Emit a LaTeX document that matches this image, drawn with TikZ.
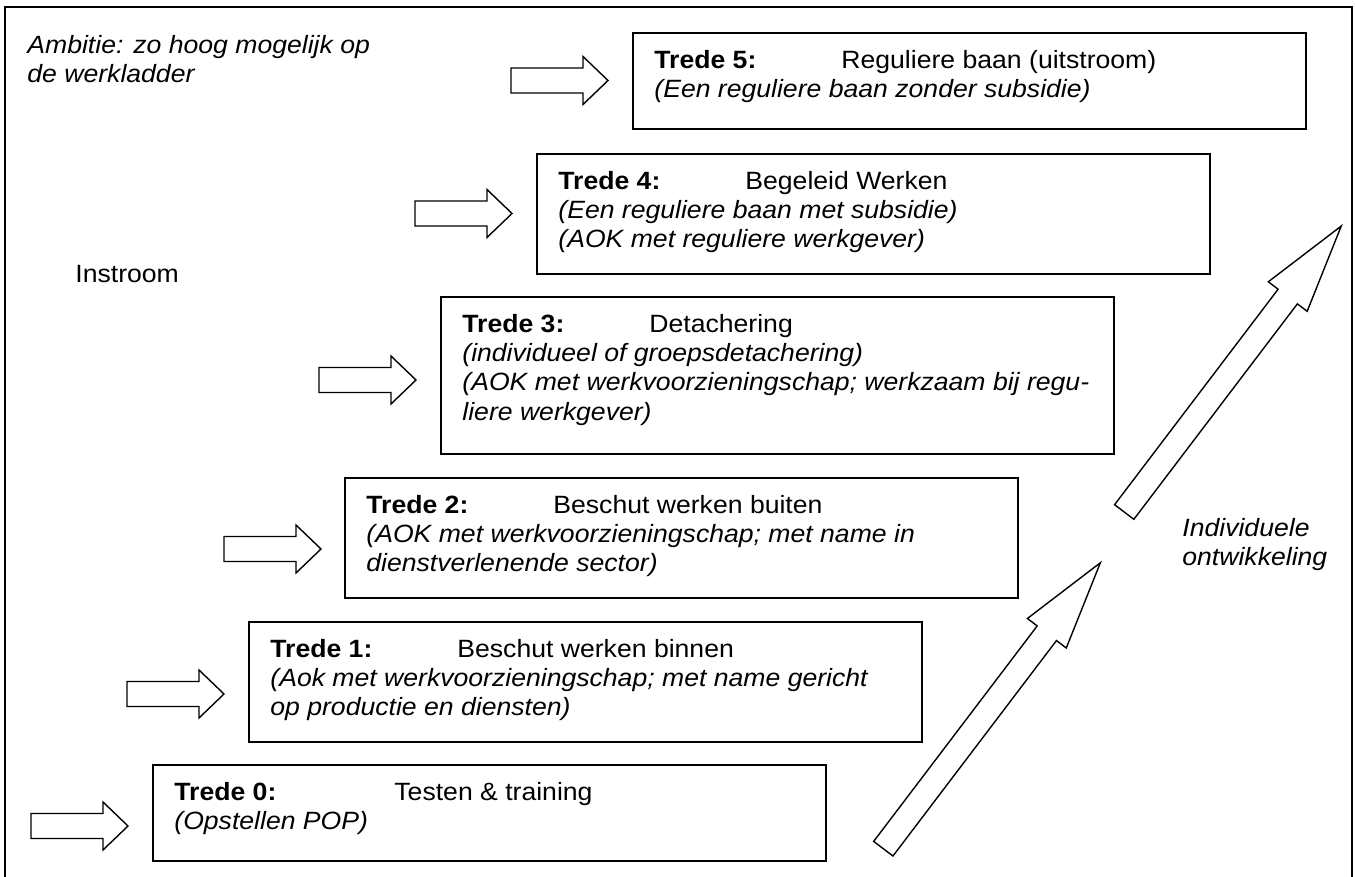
\documentclass[tikz,border=0pt]{standalone}
\usepackage{fontspec}
\setmainfont{Liberation Sans}[FakeStretch=1.064]
\begin{document}
\begin{tikzpicture}[x=0.5pt,y=-0.5pt]
		\newcommand{\boxw}{336.5pt} % width of the steps
		\newcommand{\tabpos}{93.5pt} % tab stop after "Trede n:"
		\newcommand{\shaft}{12.5} % half height of the small arrows
		\newcommand{\head}{24} % half height of their heads
		\newcommand{\len}{359} % length of the big arrows

		% styles of the steps and arrows
		\tikzset{
			stepbox/.style={
				draw,
				line width=1pt,
				minimum width=\boxw,
				anchor=north west,
				inner sep=0pt
				},
			steptext/.style={
				anchor=north west,
				align=left,
				inner sep=0pt,
				font=\fontsize{12.5pt}{14.6pt}\selectfont
				},
			hollow/.style={
				draw,
				line width=0.7pt,
				fill=white
				}
		}

		\useasboundingbox (0,0) rectangle (1355,877);

		% frame
		\draw[line width=1pt] (5,877) |- (1352,7) -- (1352,877);

		% steps
		\node[stepbox, minimum height=48pt] (trede0) at (152,764) {};
		\node[stepbox, minimum height=60pt] (trede1) at (248,621) {};
		\node[stepbox, minimum height=60pt] (trede2) at (344,477) {};
		\node[stepbox, minimum height=78.5pt] (trede3) at (440,296) {};
		\node[stepbox, minimum height=60pt] (trede4) at (536,153) {};
		\node[stepbox, minimum height=48pt] (trede5) at (632,32) {};

		% texts of the steps
		\node[steptext] (txt0) at ([shift={(11pt,-9pt)}]trede0.north west)
			{\makebox[110pt][l]{\textbf{Trede 0:}}Testen \& training\\
			\textit{(Opstellen POP)}};
		\node[steptext] (txt1) at ([shift={(11pt,-9pt)}]trede1.north west)
			{\makebox[\tabpos][l]{\textbf{Trede 1:}}Beschut werken binnen\\
			\textit{(Aok met werkvoorzieningschap; met name gericht}\\
			\textit{op productie en diensten)}};
		\node[steptext] (txt2) at ([shift={(11pt,-9pt)}]trede2.north west)
			{\makebox[\tabpos][l]{\textbf{Trede 2:}}Beschut werken buiten\\
			\textit{(AOK met werkvoorzieningschap; met name in}\\
			\textit{dienstverlenende sector)}};
		\node[steptext] (txt3) at ([shift={(11pt,-9pt)}]trede3.north west)
			{\makebox[\tabpos][l]{\textbf{Trede 3:}}Detachering\\
			\textit{(individueel of groepsdetachering)}\\
			\textit{(AOK met werkvoorzieningschap; werkzaam bij regu-}\\
			\textit{liere werkgever)}};
		\node[steptext] (txt4) at ([shift={(11pt,-9pt)}]trede4.north west)
			{\makebox[\tabpos][l]{\textbf{Trede 4:}}Begeleid Werken\\
			\textit{(Een reguliere baan met subsidie)}\\
			\textit{(AOK met reguliere werkgever)}};
		\node[steptext] (txt5) at ([shift={(11pt,-9pt)}]trede5.north west)
			{\makebox[\tabpos][l]{\textbf{Trede 5:}}Reguliere baan (uitstroom)\\
			\textit{(Een reguliere baan zonder subsidie)}};

		% arrows into the steps
		\foreach \tx/\ty in {128/826, 224/694, 321/549, 416/380, 512/213.5, 608/80.5}
			\draw[hollow] (\tx-97,\ty-\shaft) -- (\tx-25,\ty-\shaft) -- (\tx-25,\ty-\head) -- (\tx,\ty)
				-- (\tx-25,\ty+\head) -- (\tx-25,\ty+\shaft) -- (\tx-97,\ty+\shaft) -- cycle;

		% development arrows
		\foreach \mx/\my in {883.3/848.7, 1124.2/512}{
			\begin{scope}[shift={(\mx,\my)}, rotate=52.8]
				\draw[hollow] (0,-12.1) -- (\len-88.5,-12.1) -- (\len-88.5,-24.4) -- (\len,0)
					-- (\len-88.5,24.4) -- (\len-88.5,12.1) -- (0,12.1) -- cycle;
			\end{scope}
		}

		% side texts
		\node[steptext] (ambitie) at (27,35)
			{\textit{Ambitie: zo hoog mogelijk op}\\\textit{de werkladder}};
		\node[steptext] (instroom) at (75,265) {Instroom};
		\node[steptext] (ontw) at (1182,518)
			{\textit{Individuele}\\\textit{ontwikkeling}};

\end{tikzpicture}
\end{document}
